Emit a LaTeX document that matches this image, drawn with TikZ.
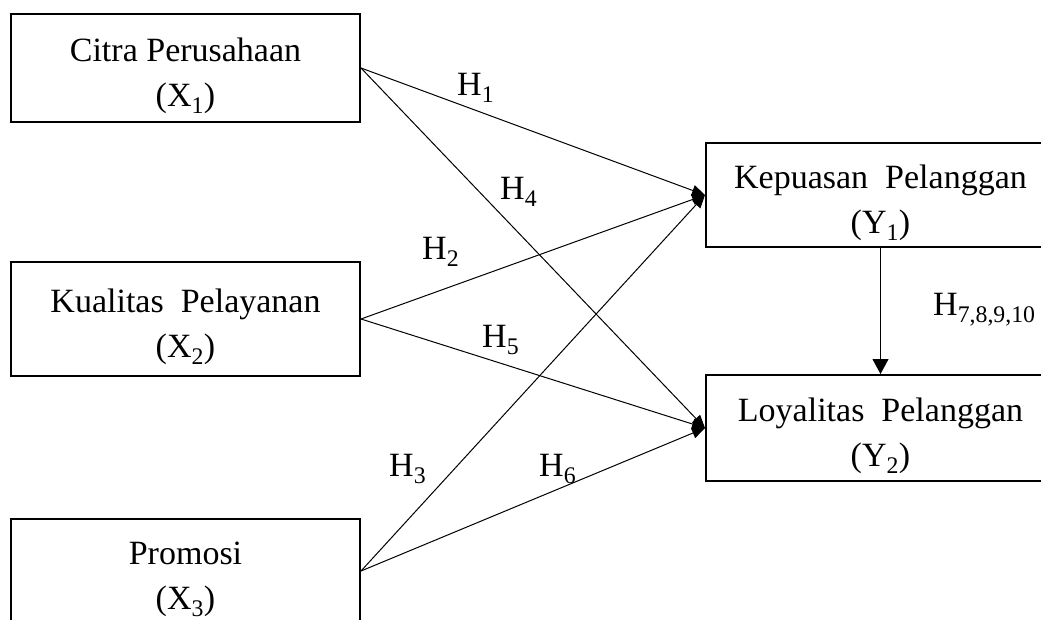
\documentclass[tikz,border=0pt]{standalone}
\usepackage{fontspec}
\setmainfont{Liberation Serif}
\usetikzlibrary{arrows.meta,positioning}

\begin{document}
\begin{tikzpicture}[
    x=1pt, y=-1pt,
    var/.style={draw=black, line width=2pt, minimum width=349pt, inner sep=0pt,
        align=center, text height=84pt, text depth=8pt,
        font=\fontsize{34}{45}\selectfont},
    path/.style={-{Triangle[length=13pt, width=11pt]}, line width=1pt},
    hyp/.style={anchor=base west, inner sep=0pt, font=\fontsize{34}{40}\selectfont}
]
\useasboundingbox (0,0) rectangle (1041,619);
\clip (0,0) rectangle (1041,619);

% variabel eksogen
\node[var, minimum height=108pt] (x1) at (185.5,68) {Citra Perusahaan\\(X\textsubscript{1})};
\node[var, minimum height=114pt] (x2) at (185.5,319) {Kualitas\ \ Pelayanan\\(X\textsubscript{2})};
\node[var, minimum height=104pt] (x3) at (185.5,571) {Promosi\\(X\textsubscript{3})};

% variabel endogen
\node[var, minimum height=104pt] (y1) at (880.5,195) {Kepuasan\ \ Pelanggan\\(Y\textsubscript{1})};
\node[var, minimum height=106pt] (y2) at (880.5,428) {Loyalitas\ \ Pelanggan\\(Y\textsubscript{2})};

% jalur hipotesis
\draw[path] (x1.east) -- (y1.west);
\draw[path] (x2.east) -- (y1.west);
\draw[path] (x3.east) -- (y1.west);
\draw[path] (x1.east) -- (y2.west);
\draw[path] (x2.east) -- (y2.west);
\draw[path] (x3.east) -- (y2.west);
\draw[-{Triangle[length=15pt, width=16pt]}, line width=1pt] (y1.south) -- (y2.north);

% label
\node[hyp] (h1) at (457,95) {H\textsubscript{1}};
\node[hyp] (h2) at (422,259) {H\textsubscript{2}};
\node[hyp] (h3) at (389,476) {H\textsubscript{3}};
\node[hyp] (h4) at (500,199) {H\textsubscript{4}};
\node[hyp] (h5) at (482,347) {H\textsubscript{5}};
\node[hyp] (h6) at (539,476) {H\textsubscript{6}};
\node[hyp] (h7) at (933,315) {H\textsubscript{7,8,9,10}};

\end{tikzpicture}
\end{document}
